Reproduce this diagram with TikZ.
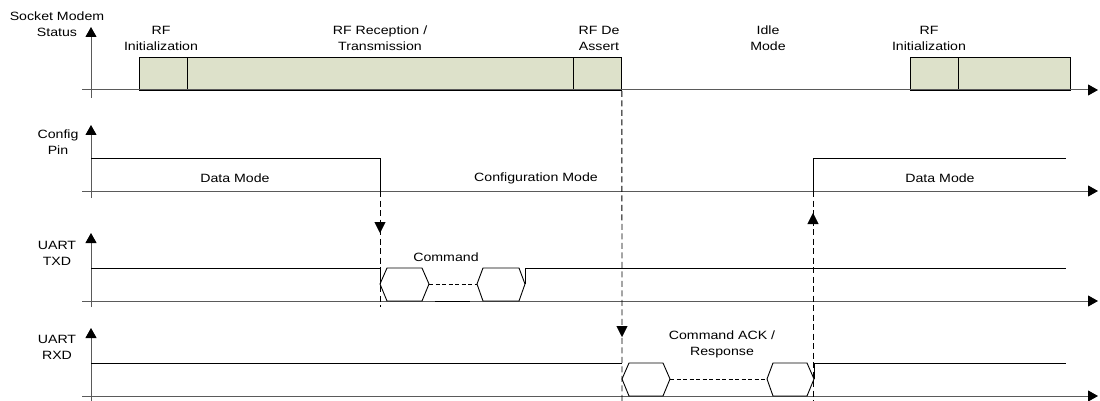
\documentclass[tikz,border=0pt]{standalone}
\usepackage{fontspec}
\setmainfont{Liberation Sans}[FakeStretch=1.18]
\usetikzlibrary{arrows.meta}
\definecolor{boxfill}{RGB}{221,225,202}
\definecolor{axisgray}{RGB}{90,90,90}
\begin{document}
\begin{tikzpicture}[x=1pt,y=-1pt,
  axis/.style={draw=axisgray, line width=1pt, -{Triangle[length=10pt,width=11pt,color=black]}},
  sig/.style={draw=black, line width=0.9pt},
  guide/.style={draw=black, line width=0.9pt, dash pattern=on 6pt off 3.5pt},
  flowmark/.style={-{Triangle[length=11pt,width=11pt]}, draw=black, fill=black},
  lbl/.style={font=\fontsize{12}{16}\selectfont, align=center, inner sep=0pt, text=black},
  statebox/.style={draw=black, fill=boxfill, line width=0.9pt, inner sep=0pt, minimum height=33pt, anchor=north west}]
\useasboundingbox (0,0) rectangle (1100,401);

% state boxes (row 1)
\node[statebox, minimum width=48pt]  (b1) at (139,57) {};
\node[statebox, minimum width=386pt] (b2) at (187,57) {};
\node[statebox, minimum width=48pt]  (b3) at (573,57) {};
\node[statebox, minimum width=48pt]  (b4) at (910,57) {};
\node[statebox, minimum width=112pt] (b5) at (958,57) {};

% axes
\draw[axis] (82,90) -- (1098,90);
\draw[axis] (91,98) -- (91,27);
\draw[axis] (82,191) -- (1098,191);
\draw[axis] (91,198) -- (91,125);
\draw[axis] (82,301) -- (1098,301);
\draw[axis] (91,307) -- (91,233);
\draw[axis] (82,396) -- (1098,396);
\draw[axis] (91,401) -- (91,328);

% row labels
\node[lbl] (l1) at (57,24.5) {Socket Modem\\Status};
\node[lbl] (l2) at (58,142) {Config\\Pin};
\node[lbl] (l3) at (57,253) {UART\\TXD};
\node[lbl] (l4) at (57,347) {UART\\RXD};

% state labels
\node[lbl] (s1) at (161,38) {RF\\Initialization};
\node[lbl] (s2) at (380,38) {RF Reception /\\Transmission};
\node[lbl] (s3) at (599,38) {RF De\\Assert};
\node[lbl] (s4) at (768,38) {Idle\\Mode};
\node[lbl] (s5) at (929,38) {RF\\Initialization};

% config pin
\draw[sig] (91,158) -- (380,158) coordinate (cfall) -- (380,191) coordinate (cfallb);
\draw[sig] (813,191) coordinate (crisb) -- (813,158) coordinate (crise) -- (1066,158);
\node[lbl] (m1) at (235,178) {Data Mode};
\node[lbl] (m2) at (536,178) {Configuration Mode};
\node[lbl] (m3) at (940,178) {Data Mode};

% UART TXD
\draw[sig] (91,268) -- (380,268) -- (380,284);
\draw[sig] (380,284) -- (387,268) -- (422,268) -- (429,284) -- (422,301) -- (387,301) -- cycle;
\draw[sig, dash pattern=on 4pt off 2.5pt] (429,284) -- (477,284);
\draw[sig] (477,284) -- (483,268) -- (519,268) -- (525,284) -- (519,301) -- (483,301) -- cycle;
\draw[sig] (525,284) -- (525,268) -- (1066,268);
\draw[sig] (435,301) -- (470,301);
\node[lbl] (cmd) at (446,257) {Command};

% UART RXD
\draw[sig] (91,363) -- (622,363);
\draw[sig] (622,379) -- (629,363) -- (663,363) -- (670,379) -- (663,396) -- (629,396) -- cycle;
\draw[sig, dash pattern=on 4pt off 2.5pt] (670,379) -- (767,379);
\draw[sig] (767,379) -- (773,363) -- (807,363) -- (814,379) -- (807,396) -- (773,396) -- cycle;
\draw[sig] (814,379) -- (814,363) -- (1066,363);
\node[lbl] (ack) at (722,344) {Command ACK /\\Response};

% dashed guides
\coordinate (g1e) at (380,307);
\draw[guide] (cfallb) -- (g1e);
\draw[flowmark] (380,222) -- (380,233);

\coordinate (g2s) at (b3.south east);
\coordinate (g2e) at (622,401);
\draw[guide] (g2s) -- (g2e);
\draw[flowmark] (622,326) -- (622,337);

\coordinate (g3e) at (813,401);
\draw[guide] (crisb) -- (g3e);
\draw[flowmark] (813,224) -- (813,213);
\end{tikzpicture}
\end{document}
